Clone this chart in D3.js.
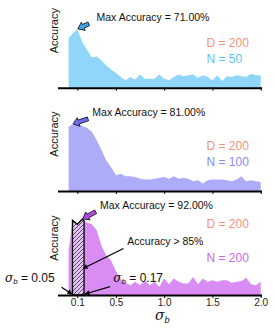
<!DOCTYPE html>
<html>
<head>
<meta charset="utf-8">
<script src="https://cdn.jsdelivr.net/npm/d3@7"></script>
<style>
  body { margin: 0; background: #fff; }
  text { font-family: "Liberation Sans", Arial, sans-serif; }
</style>
</head>
<body>
<svg width="275" height="329"></svg>
<script>
var sigma = [0.01, 0.05, 0.10, 0.15, 0.20, 0.25, 0.30, 0.35, 0.40, 0.45, 0.50,
             0.55, 0.60, 0.65, 0.70, 0.75, 0.80, 0.85, 0.90, 0.95, 1.00,
             1.05, 1.10, 1.15, 1.20, 1.25, 1.30, 1.35, 1.40, 1.45, 1.50,
             1.55, 1.60, 1.65, 1.70, 1.75, 1.80, 1.85, 1.90, 1.95, 2.00];

var accN50  = [60, 66, 71, 56, 46, 37, 38, 33, 27, 22, 18,
               13, 9, 13, 10, 16, 11, 11, 11, 16, 11,
               9, 13, 16, 14, 15, 16, 12, 15, 13, 9,
               15, 8, 14, 13, 15, 14, 13, 17, 15, 15];
var accN100 = [78, 81, 81, 79, 77, 72, 62, 50, 37, 29, 19,
               21, 18, 18, 17, 15, 14, 14, 15, 16, 17,
               15, 18, 15, 16, 15, 12, 13, 9, 13, 14,
               14, 14, 13, 12, 14, 18, 12, 13, 12, 11];
var accN200 = [54, 91, 86, 92, 88, 86, 79, 60, 48, 42, 29,
               19, 15, 12, 16, 12, 18, 12, 16, 10, 20,
               13, 20, 16, 14, 14, 22, 13, 20, 16, 18,
               16, 18, 18, 15, 16, 17, 21, 13, 12, 16];

var nValues = [50, 100, 200];
var dValue = 200;
var maxAcc = [71, 81, 92];
var xTicks = [0.1, 0.5, 1.0, 1.5, 2.0];
var xTickLabels = ["0.1", "0.5", "1.0", "1.5", "2.0"];
var bandLo = 0.05, bandHi = 0.17;

var fills  = ["#8fd6fa", "#acacf8", "#d88cf4"];
var nCols  = ["#5cc6f4", "#8a8af2", "#c76af0"];
var arrCol = ["#3ea4e6", "#6e6ef0", "#b24ce8"];
var dCol = "#f5937a";

var svg = d3.select("svg");
var x = d3.scaleLinear().domain([-0.1, 2.0]).range([58, 260.7]);
var baselines = [87.7, 191, 295];
var series = [accN50, accN100, accN200];

var defs = svg.append("defs");
var pat = defs.append("pattern").attr("id", "hatch")
    .attr("patternUnits", "userSpaceOnUse").attr("width", 4).attr("height", 4);
pat.append("rect").attr("width", 4).attr("height", 4).attr("fill", "#e4c0f4");
pat.append("path").attr("d", "M-1,1 l2,-2 M0,4 l4,-4 M3,5 l2,-2")
    .attr("stroke", "#000").attr("stroke-width", 0.6);

// block arrow from tail to tip
function blockArrow(g, tail, tip, color) {
    var dx = tip[0] - tail[0], dy = tip[1] - tail[1];
    var len = Math.sqrt(dx * dx + dy * dy);
    var ux = dx / len, uy = dy / len, px = -uy, py = ux;
    var hl = 6, hw = 4.5, sw = 2;
    var bx = tip[0] - ux * hl, by = tip[1] - uy * hl;
    var pts = [
        [tail[0] + px * sw, tail[1] + py * sw],
        [bx + px * sw, by + py * sw],
        [bx + px * hw, by + py * hw],
        tip,
        [bx - px * hw, by - py * hw],
        [bx - px * sw, by - py * sw],
        [tail[0] - px * sw, tail[1] - py * sw]
    ];
    g.append("polygon").attr("points", pts.map(function(p) { return p.join(","); }).join(" "))
        .attr("fill", color).attr("stroke", "#000").attr("stroke-width", 0.8)
        .attr("stroke-linejoin", "miter");
}

defs.append("marker").attr("id", "ah").attr("viewBox", "0 0 10 10")
    .attr("refX", 9).attr("refY", 5).attr("markerWidth", 7).attr("markerHeight", 5)
    .attr("orient", "auto").attr("markerUnits", "userSpaceOnUse")
    .append("path").attr("d", "M0,0 L10,5 L0,10 z").attr("fill", "#000");

function lineArrow(g, from, to) {
    g.append("line").attr("x1", from[0]).attr("y1", from[1])
        .attr("x2", to[0]).attr("y2", to[1])
        .attr("stroke", "#000").attr("stroke-width", 1.3)
        .attr("marker-end", "url(#ah)");
}

var tailOffsets = [[11, -5], [15, -5], [13, -7]];
var maxLabelPos = [[96.5, 20.7], [92.3, 115.7], [100, 209.3]];

series.forEach(function(vals, i) {
    var b = baselines[i];
    var y = d3.scaleLinear().domain([0, 100]).range([b, b - 82.25]);
    var g = svg.append("g");
    var data = sigma.map(function(s, k) { return {s: s, a: vals[k]}; });

    var area = d3.area()
        .x(function(d) { return x(d.s); })
        .y0(b).y1(function(d) { return y(d.a); });

    g.append("path").datum(data).attr("d", area).attr("fill", fills[i]);

    if (i === 2) {
        var band = data.filter(function(d) { return d.s >= bandLo && d.s <= bandHi; });
        var k = d3.bisectLeft(sigma, bandHi);
        var t = (bandHi - sigma[k - 1]) / (sigma[k] - sigma[k - 1]);
        band.push({s: bandHi, a: vals[k - 1] + t * (vals[k] - vals[k - 1])});
        g.append("path").datum(band).attr("d", area)
            .attr("fill", "url(#hatch)").attr("stroke", "#000").attr("stroke-width", 1.3);
    }

    // axis
    var axis = g.append("g").attr("transform", "translate(0," + b + ")")
        .call(d3.axisBottom(x).tickValues(xTicks).tickSize(3).tickPadding(1)
            .tickFormat(function(d, j) { return i === 2 ? xTickLabels[j] : ""; }));
    axis.select(".domain").attr("d", "M58,0.5H262").attr("stroke-width", 2);
    axis.selectAll(".tick line").attr("stroke-width", 1);
    axis.selectAll(".tick text").attr("font-family", "Liberation Sans, Arial, sans-serif")
        .attr("font-size", 10).attr("fill", "#222");

    g.append("text").attr("transform", "translate(57.5," + (b - 57) + ") rotate(-90)")
        .attr("text-anchor", "middle").attr("font-size", 11).attr("fill", "#111")
        .text("Accuracy");

    // peak arrow
    var pk = vals.indexOf(d3.max(vals));
    var tip = [x(sigma[pk]) + 0.5, y(vals[pk]) - 0.5];
    blockArrow(g, [tip[0] + tailOffsets[i][0], tip[1] + tailOffsets[i][1]], tip, arrCol[i]);
    g.append("text").attr("x", maxLabelPos[i][0]).attr("y", maxLabelPos[i][1])
        .attr("font-size", 10.5).attr("fill", "#111")
        .text("Max Accuracy = " + maxAcc[i].toFixed(2) + "%");

    var dy = [[47, 63.3], [150, 165.7], [227.7, 261.7]][i];
    g.append("text").attr("x", 206.5).attr("y", dy[0]).attr("font-size", 12)
        .attr("fill", dCol).text("D = " + dValue);
    g.append("text").attr("x", 206.5).attr("y", dy[1]).attr("font-size", 12)
        .attr("fill", nCols[i]).text("N = " + nValues[i]);
});

// annotations bottom panel
var ga = svg.append("g");
var b3 = baselines[2];
ga.append("text").attr("x", 127.3).attr("y", 245).attr("font-size", 10.5)
    .attr("fill", "#111").text("Accuracy > 85%");
lineArrow(ga, [123.5, 248.5], [x(bandHi) - 1, 268.5]);

function sigmaLabel(xp, yp, val) {
    var t = ga.append("text").attr("x", xp).attr("y", yp).attr("font-size", 12).attr("fill", "#111");
    t.append("tspan").attr("font-style", "italic").attr("font-family", "DejaVu Serif, serif").text("σ");
    t.append("tspan").attr("font-style", "italic").attr("font-size", 8).attr("dy", 2.5).text("b");
    t.append("tspan").attr("dy", -2.5).text(" = " + val);
}
sigmaLabel(5, 281.7, "0.05");
sigmaLabel(113.3, 281.7, "0.17");
lineArrow(ga, [61.5, 287.3], [x(bandLo) - 0.5, b3 - 1]);
lineArrow(ga, [110, 286.7], [x(bandHi) + 1, b3 - 1]);

// x title
var xt = svg.append("text").attr("x", 155).attr("y", 320).attr("font-size", 14).attr("fill", "#111");
xt.append("tspan").attr("font-style", "italic").attr("font-family", "DejaVu Serif, serif").text("σ");
xt.append("tspan").attr("font-style", "italic").attr("font-size", 9).attr("dy", 3).text("b");
</script>
</body>
</html>
